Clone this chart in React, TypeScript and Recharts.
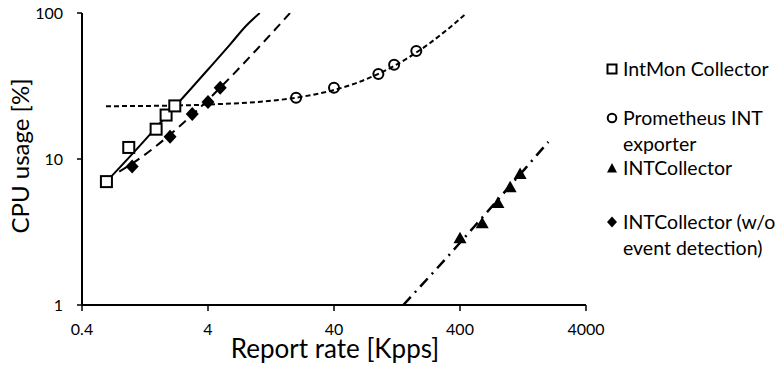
import React from 'react';
import { ComposedChart, Line, Scatter, XAxis, YAxis } from 'recharts';

// ---- Data ----
const xTicks = [0.4, 4, 40, 400, 4000];
const yTicks = [1, 10, 100];

const intMonX = [0.625, 0.94, 1.55, 1.86, 2.18];
const intMonY = [7.0, 12.0, 16.0, 20.0, 23.1];

const promX = [20, 40, 90, 120, 180];
const promY = [26.3, 30.8, 38.2, 44.2, 54.9];

const intColX = [400, 600, 800, 1000, 1200];
const intColY = [2.86, 3.63, 5.0, 6.4, 7.9];

const woX = [1, 2, 3, 4, 5];
const woY = [8.9, 14.2, 20.3, 24.6, 30.8];

// trend lines
const intMonTrendX = [0.625, 1, 1.5, 2, 3, 4, 6, 8, 10.3];
const intMonTrendY = [7.0, 10.8, 15.9, 21, 31, 41, 61, 81.5, 100];

const promTrendX = [0.62, 2, 5, 10, 20, 40, 60, 90, 120, 150, 180, 230, 280, 340, 400, 452];
const promTrendY = [23, 23.2, 23.8, 24.6, 26.3, 29.7, 33.1, 38.3, 43.4, 48.5, 53.6, 62.1, 70.7, 80.9, 91.1, 100];

const intColTrendX = [142, 200, 300, 400, 600, 800, 1000, 1300, 1600, 2010];
const intColTrendY = [1, 1.38, 2.02, 2.67, 3.97, 5.26, 6.56, 8.5, 10.45, 13.1];

const woTrendX = [0.79, 1, 1.5, 2, 3, 4, 5, 7, 10, 14, 17.9];
const woTrendY = [8.2, 9.3, 12, 14.7, 20.1, 25.4, 30.8, 41.5, 57.6, 79, 100];

const legendNames = ['IntMon Collector', 'Prometheus INT exporter', 'INTCollector', 'INTCollector (w/o event detection)'];

const zip = (xs: number[], ys: number[]) => xs.map((x, i) => ({ x, y: ys[i] }));

const intMonData = zip(intMonX, intMonY);
const promData = zip(promX, promY);
const intColData = zip(intColX, intColY);
const woData = zip(woX, woY);
const intMonTrend = zip(intMonTrendX, intMonTrendY);
const promTrend = zip(promTrendX, promTrendY);
const intColTrend = zip(intColTrendX, intColTrendY);
const woTrend = zip(woTrendX, woTrendY);

const FONT = 'Lato, "Open Sans", sans-serif';

const SquareShape = (p: any) => (
  <rect x={p.cx - 5.5} y={p.cy - 5.5} width={11} height={11} fill="#fff" stroke="#000" strokeWidth={2} />
);
const CircleShape = (p: any) => (
  <circle cx={p.cx} cy={p.cy} r={5} fill="none" stroke="#000" strokeWidth={2} />
);
const TriangleShape = (p: any) => (
  <path d={`M${p.cx},${p.cy - 6.5} L${p.cx + 6.5},${p.cy + 5} L${p.cx - 6.5},${p.cy + 5} Z`} fill="#000" />
);
const DiamondShape = (p: any) => (
  <path d={`M${p.cx},${p.cy - 7} L${p.cx + 6.5},${p.cy} L${p.cx},${p.cy + 7} L${p.cx - 6.5},${p.cy} Z`} fill="#000" />
);

const fmtX = (v: number) => String(v);

const LegendMarker = ({ kind }: { kind: number }) => (
  <svg width={12} height={12} style={{ position: 'absolute', left: 606, top: -6 }}>
    {kind === 0 && <rect x={1.5} y={1.5} width={9} height={9} fill="#fff" stroke="#000" strokeWidth={2} />}
    {kind === 1 && <circle cx={6} cy={6} r={4.3} fill="#fff" stroke="#000" strokeWidth={2} />}
    {kind === 2 && <path d="M6,1 L11,10.5 L1,10.5 Z" fill="#000" />}
    {kind === 3 && <path d="M6,0.5 L11,6 L6,11.5 L1,6 Z" fill="#000" />}
  </svg>
);

const legendRows = [
  { y: 69, text: 'IntMon Collector', marker: 0 },
  { y: 118, text: 'Prometheus INT', marker: 1 },
  { y: 144, text: 'exporter', marker: -1 },
  { y: 168, text: 'INTCollector', marker: 2 },
  { y: 222, text: 'INTCollector (w/o', marker: 3 },
  { y: 248, text: 'event detection)', marker: -1 },
];

export default function App() {
  return (
    <div style={{ position: 'absolute', left: 0, top: 0, width: 777, height: 371, background: '#fff', fontFamily: FONT }}>
      <ComposedChart width={777} height={371} margin={{ top: 13, right: 191, bottom: 0, left: 0 }}>
        <XAxis
          dataKey="x"
          type="number"
          scale="log"
          domain={[0.4, 4000]}
          ticks={xTicks}
          allowDataOverflow
          height={66}
          tickFormatter={fmtX}
          axisLine={{ stroke: '#000', strokeWidth: 2 }}
          tickLine={{ stroke: '#000', strokeWidth: 1.5 }}
          tickSize={6}
          tickMargin={13}
          tick={{ fill: '#000', fontSize: 16, fontFamily: FONT }}
          label={{
            content: () => (
              <text x={335} y={358} textAnchor="middle" fill="#000" fontSize={26} fontFamily={FONT}>
                Report rate [Kpps]
              </text>
            ),
          }}
        />
        <YAxis
          dataKey="y"
          type="number"
          scale="log"
          domain={[1, 100]}
          ticks={yTicks}
          allowDataOverflow
          width={82}
          axisLine={{ stroke: '#000', strokeWidth: 2 }}
          tickLine={{ stroke: '#000', strokeWidth: 1.5 }}
          tickSize={5}
          tickMargin={14}
          tick={{ fill: '#000', fontSize: 16, fontFamily: FONT }}
          label={{
            content: () => (
              <text
                x={29}
                y={156}
                transform="rotate(-90 29 156)"
                textAnchor="middle"
                fill="#000"
                fontSize={24}
                fontFamily={FONT}
              >
                CPU usage [%]
              </text>
            ),
          }}
        />
        <Line data={intMonTrend} dataKey="y" type="monotone" stroke="#000" strokeWidth={2} dot={false} isAnimationActive={false} legendType="none" />
        <Line data={woTrend} dataKey="y" type="monotone" stroke="#000" strokeWidth={2} strokeDasharray="9 6" dot={false} isAnimationActive={false} legendType="none" />
        <Line data={promTrend} dataKey="y" type="monotone" stroke="#000" strokeWidth={2} strokeDasharray="5 3" dot={false} isAnimationActive={false} legendType="none" />
        <Line data={intColTrend} dataKey="y" type="monotone" stroke="#000" strokeWidth={2.5} strokeDasharray="11 6 2 6" dot={false} isAnimationActive={false} legendType="none" />
        <Scatter name={legendNames[0]} data={intMonData} dataKey="y" shape={SquareShape} isAnimationActive={false} />
        <Scatter name={legendNames[1]} data={promData} dataKey="y" shape={CircleShape} isAnimationActive={false} />
        <Scatter name={legendNames[2]} data={intColData} dataKey="y" shape={TriangleShape} isAnimationActive={false} />
        <Scatter name={legendNames[3]} data={woData} dataKey="y" shape={DiamondShape} isAnimationActive={false} />
      </ComposedChart>
      {legendRows.map((r, i) => (
        <div key={i} style={{ position: 'absolute', left: 0, top: r.y, width: 777, height: 0 }}>
          {r.marker >= 0 && <LegendMarker kind={r.marker} />}
          <div
            style={{
              position: 'absolute',
              left: 623,
              top: -14,
              lineHeight: '28px',
              fontSize: 19.5,
              whiteSpace: 'nowrap',
              color: '#000',
              fontFamily: FONT,
            }}
          >
            {r.text}
          </div>
        </div>
      ))}
    </div>
  );
}
